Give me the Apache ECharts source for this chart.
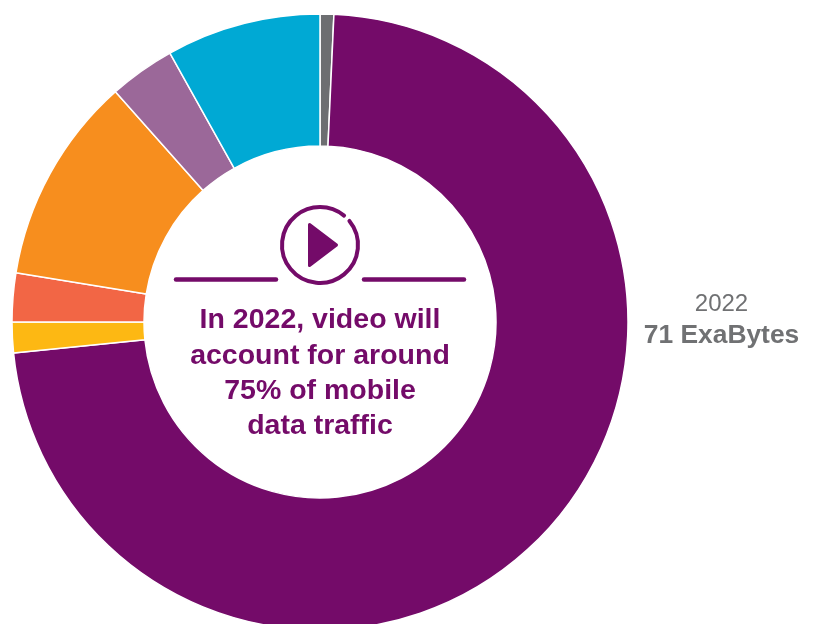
<!DOCTYPE html>
<html>
<head>
<meta charset="utf-8">
<style>html,body{margin:0;padding:0;background:#fff}#c{width:816px;height:624px}</style>
<script src="https://cdn.jsdelivr.net/npm/echarts@6/dist/echarts.min.js"></script>
</head>
<body>
<div id="c"></div>
<script>
var categories = ['Other', 'Video', 'Segment A', 'Segment B', 'Segment C', 'Segment D', 'Segment E'];
var shares = [0.72, 72.67, 1.61, 2.55, 10.89, 3.46, 8.1];
var colors = ['#6d6e71', '#740b69', '#fdb813', '#f26645', '#f78e1e', '#9b6899', '#00a9d4'];
var centerLines = ['In 2022, video will', 'account for around', '75% of mobile', 'data traffic'];
var sideYear = '2022';
var sideTotal = '71 ExaBytes';

var PURPLE = '#740b69', GREY = '#707173', FONT = '"Liberation Sans", Arial, sans-serif';
var chart = echarts.init(document.getElementById('c'), null, {renderer: 'canvas'});

var textEls = centerLines.map(function (t, i) {
  return {type: 'text', style: {text: t, x: 320, y: [320, 356, 391, 426][i], align: 'center', verticalAlign: 'middle',
    font: 'bold 28.5px ' + FONT, fill: PURPLE}};
});

chart.setOption({
  animation: false,
  series: [{
    type: 'pie',
    center: [320, 322],
    radius: [176, 308],
    startAngle: 90,
    clockwise: true,
    avoidLabelOverlap: false,
    label: {show: false},
    labelLine: {show: false},
    itemStyle: {borderColor: '#fff', borderWidth: 1.5},
    emphasis: {disabled: true},
    data: categories.map(function (n, i) {
      return {name: n, value: shares[i], itemStyle: {color: colors[i]}};
    })
  }],
  graphic: {elements: [
    {type: 'arc', shape: {cx: 320, cy: 245, r: 38, startAngle: -Math.PI / 4 + 0.1, endAngle: -Math.PI / 4 - 0.1, clockwise: true},
      style: {stroke: PURPLE, lineWidth: 4, fill: null, lineCap: 'round'}},
    {type: 'polygon', shape: {points: [[309.5, 224.5], [336.5, 245], [309.5, 265.5]]},
      style: {fill: PURPLE, stroke: PURPLE, lineWidth: 3, lineJoin: 'round'}},
    {type: 'line', shape: {x1: 176, y1: 279.5, x2: 276, y2: 279.5},
      style: {stroke: PURPLE, lineWidth: 4.5, lineCap: 'round'}},
    {type: 'line', shape: {x1: 364, y1: 279.5, x2: 464, y2: 279.5},
      style: {stroke: PURPLE, lineWidth: 4.5, lineCap: 'round'}},
    {type: 'text', style: {text: sideYear, x: 721.5, y: 304.5, align: 'center', verticalAlign: 'middle',
      font: '24px ' + FONT, fill: GREY}},
    {type: 'text', style: {text: sideTotal, x: 721.5, y: 336, align: 'center', verticalAlign: 'middle',
      font: 'bold 26.4px ' + FONT, fill: GREY}}
  ].concat(textEls)}
});
</script>
</body>
</html>
